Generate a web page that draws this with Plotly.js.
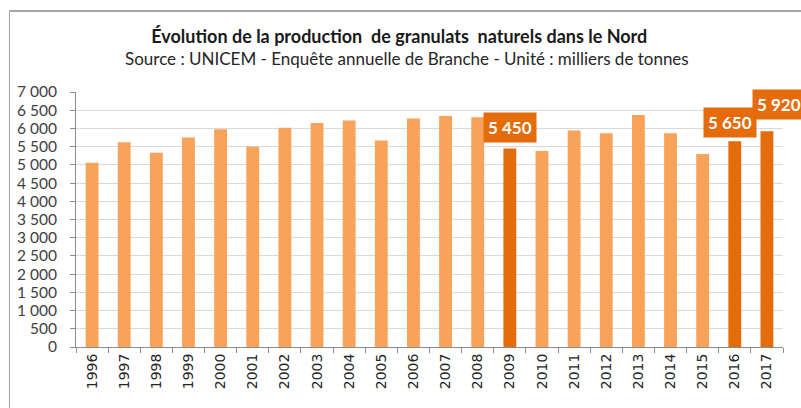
<!DOCTYPE html>
<html>
<head>
<meta charset="utf-8">
<script src="https://cdn.plot.ly/plotly-3.0.1.min.js"></script>
<style>
  body { margin: 0; background: #ffffff; }
  #graph { width: 801px; height: 408px; }
  #cadre {
    position: absolute; left: 9px; top: 10px; width: 820px; height: 420px;
    border-top: 2px solid #a6a6a6; border-left: 1px solid #a6a6a6;
    pointer-events: none;
  }
</style>
</head>
<body>
<div id="graph"></div>
<div id="cadre"></div>
<script>
// Donnees (milliers de tonnes)
var annees = ['1996', '1997', '1998', '1999', '2000', '2001', '2002', '2003', '2004', '2005', '2006',
              '2007', '2008', '2009', '2010', '2011', '2012', '2013', '2014', '2015', '2016', '2017'];
var production = [5060, 5620, 5330, 5750, 5980, 5500, 6020, 6150, 6220, 5670, 6270,
                  6340, 6310, 5450, 5380, 5940, 5870, 6370, 5870, 5300, 5650, 5920];
var anneesMarquees = ['2009', '2016', '2017'];
var graduations = [0, 500, 1000, 1500, 2000, 2500, 3000, 3500, 4000, 4500, 5000, 5500, 6000, 6500, 7000];
var decalX = [0, -5, 12];
var decalY = [5, 3, 11];

var clair = '#f9a25a';
var fonce = '#e46c0a';

// Formatage "5 450"
function formate(v) {
    return String(v).replace(/\B(?=(\d{3})+(?!\d))/g, ' ');
}

var couleurs = annees.map(function (a) {
    return anneesMarquees.indexOf(a) >= 0 ? fonce : clair;
});

var trace = {
    x: annees,
    y: production,
    type: 'bar',
    marker: { color: couleurs },
    hoverinfo: 'none'
};

// Etiquettes sur les annees marquees
var etiquettes = anneesMarquees.map(function (a, i) {
    var idx = annees.indexOf(a);
    return {
        x: idx,
        y: production[idx],
        xref: 'x',
        yref: 'y',
        text: '<b>' + formate(production[idx]) + '</b>',
        showarrow: false,
        yanchor: 'bottom',
        xshift: decalX[i],
        yshift: decalY[i],
        bgcolor: fonce,
        borderpad: 4,
        font: { family: 'Lato, sans-serif', size: 17, color: '#ffffff' }
    };
});

// Sous-titre
etiquettes.push({
    text: 'Source : UNICEM - Enquête annuelle de Branche - Unité : milliers de tonnes',
    xref: 'paper', yref: 'paper',
    x: 0.468, y: 1 + (92 - 58) / 255,
    xanchor: 'center', yanchor: 'middle',
    showarrow: false,
    font: { family: 'Lato, sans-serif', size: 17, color: '#262626' }
});

var layout = {
    width: 801,
    height: 408,
    margin: { l: 76, r: 18, t: 92, b: 61 },
    paper_bgcolor: '#ffffff',
    plot_bgcolor: '#ffffff',
    showlegend: false,
    bargap: 0.6,
    title: {
        text: '<b>Évolution de la production  de granulats  naturels dans le Nord</b>',
        x: 0.4985, xref: 'container', xanchor: 'center',
        y: 1 - 37 / 408, yref: 'container', yanchor: 'middle',
        font: { family: 'Lato, sans-serif', size: 18, color: '#1a1a1a' }
    },
    xaxis: {
        type: 'category',
        range: [-0.5, annees.length - 0.5],
        tickangle: -90,
        tickson: 'boundaries',
        ticks: 'outside',
        ticklen: 5,
        tickcolor: '#8c8c8c',
        showline: true,
        linecolor: '#8c8c8c',
        showgrid: false,
        tickfont: { family: 'DejaVu Sans, sans-serif', size: 14, color: '#262626' }
    },
    yaxis: {
        range: [0, 7000],
        tickvals: graduations,
        ticktext: graduations.map(formate),
        ticks: 'outside',
        ticklen: 5,
        tickcolor: '#8c8c8c',
        showline: true,
        linecolor: '#8c8c8c',
        gridcolor: '#d9d9d9',
        zeroline: false,
        ticklabelstandoff: 10,
        tickfont: { family: 'Lato, sans-serif', size: 15.5, color: '#404040' }
    },
    annotations: etiquettes
};

Plotly.newPlot('graph', [trace], layout, { staticPlot: true });
</script>
</body>
</html>
